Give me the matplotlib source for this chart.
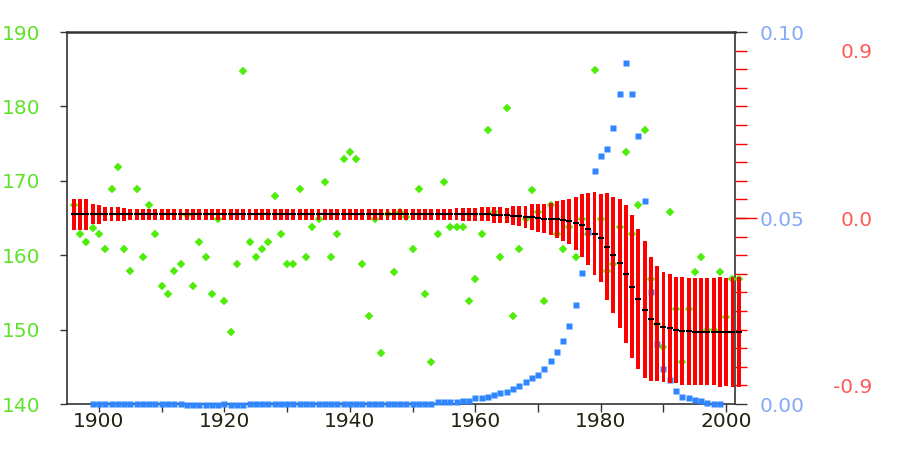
import numpy as np
import matplotlib
matplotlib.use('Agg')
import matplotlib.pyplot as plt
from matplotlib.ticker import MultipleLocator, FixedLocator, FixedFormatter, NullFormatter

# ---------------- data ----------------
years = list(range(1896, 2003))

green_vals = [
    166.8, 162.8, 161.8, 163.7, 162.8, 160.8, 168.9, 171.8, 160.8, 157.9,   # 1896-1905
    168.9, 159.8, 166.8, 162.8, 155.8, 154.8, 157.9, 158.8, 165.4, 155.8,   # 1906-1915
    161.8, 159.8, 154.8, 164.8, 153.8, 149.7, 158.8, 184.8, 161.8, 159.8,   # 1916-1925
    160.8, 161.8, 167.9, 162.8, 158.8, 158.8, 168.9, 159.8, 163.8, 164.8,   # 1926-1935
    169.8, 159.8, 162.8, 172.9, 173.9, 172.9, 158.8, 151.8, 164.8, 146.8,   # 1936-1945
    165.5, 157.8, 165.8, 165.2, 160.8, 168.9, 154.8, 145.7, 162.8, 169.8,   # 1946-1955
    163.8, 163.8, 163.8, 153.8, 156.8, 162.8, 176.8, 165.8, 159.8, 179.8,   # 1956-1965
    151.8, 160.8, 164.8, 168.8, 165.8, 153.8, 166.8, 162.8, 160.8, 163.8,   # 1966-1975
    159.8, 164.8, 162.8, 184.9, 164.9, 157.9, 158.8, 163.8, 173.9, 162.8,   # 1976-1985
    166.8, 176.8, 156.8, 150.8, 147.7, 165.8, 152.8, 145.7, 152.8, 157.8,   # 1986-1995
    159.8, 150.0, 149.9, 157.8, 151.7, 156.8, 156.8,                        # 1996-2002
]

fit_center = [165.5] * 67 + [                                              # 1896-1962
    165.4, 165.4, 165.35, 165.3, 165.25, 165.15, 165.1, 165.0, 164.9, 164.85,  # 1963-1972
    164.8, 164.7, 164.55, 164.3, 164.0, 163.5, 162.9, 162.3, 161.15, 160.03,   # 1973-1982
    158.9, 157.5, 155.75, 154.1, 152.7, 151.45, 150.8, 150.4, 150.15, 149.95,  # 1983-1992
    149.8, 149.75, 149.7, 149.7, 149.7, 149.7, 149.68, 149.65, 149.65, 149.65, # 1993-2002
]

fit_halfwidth = [2.06, 2.06, 2.06, 1.35, 1.24, 0.96, 0.96, 0.96, 0.90] + [0.72] * 51 + [  # 1896-1955
    0.75, 0.80, 0.88, 0.90, 0.90, 0.96, 0.96, 1.05, 1.05, 1.05,   # 1956-1965
    1.30, 1.30, 1.52, 1.72, 1.84, 1.95, 2.17, 2.46, 2.73, 3.02,   # 1966-1975
    3.58, 4.21, 4.86, 5.60, 5.89, 7.21, 7.84, 8.63, 9.25, 9.59,   # 1976-1985
    9.39, 9.19, 8.33, 7.77, 7.39, 7.39, 7.17, 7.24, 7.20, 7.20,   # 1986-1995
    7.20, 7.20, 7.20, 7.35, 7.26, 7.40, 7.40,                     # 1996-2002
]

blue_years = list(range(1899, 2000))
blue_vals = ([0.0] * 15 + [-0.0004] * 6 + [0.0] + [-0.0004] * 3 + [0.0] * 30 +   # 1899-1953
             [0.0005] * 4 + [                                                   # 1954-1957
    0.0009, 0.0009, 0.0015, 0.0015, 0.0020, 0.0024, 0.0029, 0.0033, 0.0040, 0.0049,  # 1958-1967
    0.0060, 0.0069, 0.0078, 0.0093, 0.0116, 0.0141, 0.0169, 0.0210, 0.0266, 0.0351,  # 1968-1977
    0.0463, 0.0627, 0.0667, 0.0686, 0.0743, 0.0832, 0.0918, 0.0832, 0.0721, 0.0546,  # 1978-1987
    0.0301, 0.0160, 0.0095, 0.0065, 0.0035, 0.0020, 0.0015, 0.0011, 0.0009, 0.0004,  # 1988-1997
    0.0, 0.0,                                                                        # 1998-1999
])

left_ticks = [140, 150, 160, 170, 180, 190]
blue_ticks = [0.0, 0.05, 0.10]
blue_labels = ['0.00', '0.05', '0.10']
red_ticks = [-0.9, 0.0, 0.9]
red_labels = ['-0.9', '0.0', '0.9']
red_minor = [round(v, 1) for v in np.arange(-0.9, 0.95, 0.1)]

# ---------------- style ----------------
GREEN = '#4cee08'
GREEN_LBL = '#5fe22a'
BLUE = '#2f86ff'
BLUE_LBL = '#86aaf6'
RED = '#ff0000'
RED_LBL = '#ff5a5a'
SPINE = '#333333'
FS = 14.5
plt.rcParams['font.family'] = ['DejaVu Sans']

W, H = 902, 463
fig = plt.figure(figsize=(W / 100, H / 100), dpi=100)
L, R, B, T = 67, 735, 404, 32
rect = [L / W, (H - B) / H, (R - L) / W, (B - T) / H]
ax = fig.add_axes(rect)
ax.set_xlim(1894.9, 2001.4)
ax.set_ylim(140, 190)

for s in ax.spines.values():
    s.set_color(SPINE)
    s.set_linewidth(1.2)
ax.spines['top'].set_linewidth(1.8)

ax.set_yticks(left_ticks)
ax.tick_params(axis='y', which='both', direction='out', length=5, width=1,
               color=SPINE, labelcolor=GREEN_LBL, labelsize=FS, pad=14)
ax.xaxis.set_major_locator(MultipleLocator(20))
ax.xaxis.set_minor_locator(MultipleLocator(10))
ax.xaxis.set_major_formatter(matplotlib.ticker.FuncFormatter(lambda v, p: f'{int(round(v))}'))
ax.tick_params(axis='x', which='both', direction='out', length=6, width=1,
               color=SPINE, labelcolor='#222211', labelsize=FS, pad=0)

ax.plot(years, green_vals, ls='none', marker='D', ms=3.6, color=GREEN,
        mec=GREEN, mew=0.3, clip_on=False, zorder=3)

# blue axis
axb = ax.twinx()
axb.set_ylim(0, 0.1)
for s in axb.spines.values():
    s.set_visible(False)
axb.yaxis.set_major_locator(FixedLocator(blue_ticks))
axb.yaxis.set_major_formatter(FixedFormatter(blue_labels))
axb.tick_params(axis='y', which='major', direction='out', length=8.6, width=1,
                color=SPINE, labelcolor=BLUE_LBL, labelsize=FS, pad=9)
axb.plot(blue_years, blue_vals, ls='none', marker='s', ms=4.2, color=BLUE,
         mec='none', clip_on=False, zorder=3)

# red axis
axr = ax.twinx()
axr.set_ylim(-1, 1)
for s in axr.spines.values():
    s.set_visible(False)
axr.yaxis.set_major_locator(FixedLocator(red_ticks))
axr.yaxis.set_major_formatter(FixedFormatter(red_labels))
axr.yaxis.set_minor_locator(FixedLocator(red_minor))
axr.yaxis.set_minor_formatter(NullFormatter())
axr.tick_params(axis='y', which='both', direction='out', length=8.6, width=1,
                color=RED, labelcolor=RED_LBL, labelsize=FS, pad=90.5)
for lbl in axr.get_yticklabels():
    lbl.set_horizontalalignment('right')
fig.canvas.draw()
for t in axr.yaxis.get_major_ticks():
    if abs(t.get_loc()) < 1e-9:
        t.tick2line.set_markersize(16)

# fitted band (in left-axis units), drawn on top
axt = ax.twinx()
axt.set_ylim(140, 190)
axt.axis('off')
lo = np.array(fit_center) - np.array(fit_halfwidth)
axt.bar(years, 2 * np.array(fit_halfwidth), bottom=lo, width=0.62,
        color=RED, edgecolor='none', clip_on=False, zorder=2)
axt.plot(years, fit_center, ls='none', marker='_', ms=4.7, mew=1.5,
         color='black', clip_on=False, zorder=3)

fig.savefig('out.png', dpi=100)
